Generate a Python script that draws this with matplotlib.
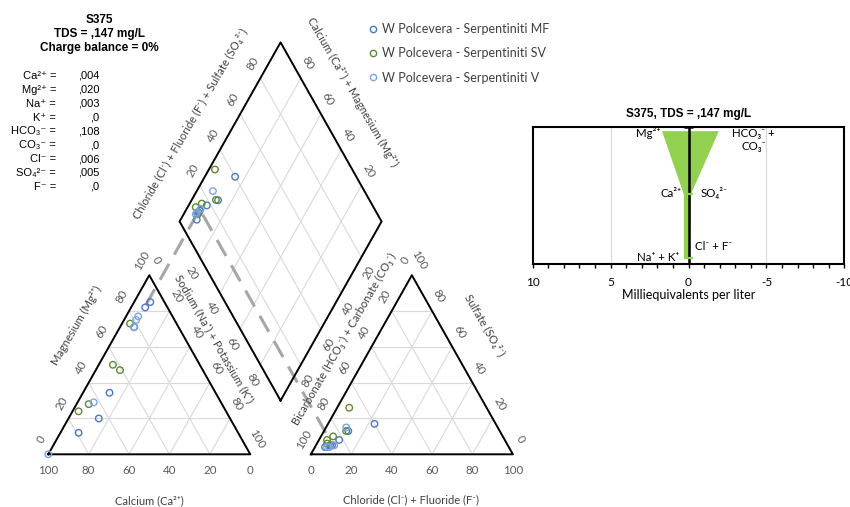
import numpy as np
import matplotlib
matplotlib.use('Agg')
import matplotlib.pyplot as plt
from matplotlib.lines import Line2D

plt.rcParams['font.family'] = ['Lato', 'DejaVu Sans']
ARIAL = ['Liberation Sans', 'DejaVu Sans']

# sample summary (as listed in the sheet)
sample_name = 'S375'
tds_text = ',147'
ion_names = ['Ca²⁺ =', 'Mg²⁺ =', 'Na⁺ =', 'K⁺ =', 'HCO₃⁻ =', 'CO₃⁻ =',
             'Cl⁻ =', 'SO₄²⁻ =', 'F⁻ =']
ion_values = [',004', ',020', ',003', ',0', ',108', ',0', ',006', ',005', ',0']
ion_mgl = [4, 20, 3, 0, 108, 0, 6, 5, 0]
ion_eqw = [20.04, 12.15, 22.99, 39.10, 61.02, 30.0, 35.45, 48.03, 19.0]

# percent meq - cations: Ca, Mg, Na+K / anions: HCO3+CO3, Cl+F, SO4
mf_ca = [7, 11, 22, 52, 65, 79]
mf_mg = [85, 82, 71, 34, 20, 12]
mf_na = [8, 7, 7, 13, 15, 9]
mf_hco3 = [91, 87, 88, 75, 60, 82]
mf_cl = [5, 8, 7, 12, 23, 10]
mf_so4 = [4, 5, 5, 13, 17, 8]

sv_ca = [23, 43, 41, 66, 73]
sv_mg = [73, 50, 47, 28, 24]
sv_na = [4, 7, 12, 6, 3]
sv_hco3 = [88, 89, 76, 84, 68]
sv_cl = [4, 5, 11, 6, 6]
sv_so4 = [8, 6, 13, 10, 26]

v_ca = [17, 19, 22, 63, 100]
v_mg = [77, 75, 71, 29, 0]
v_na = [6, 6, 7, 8, 0]
v_hco3 = [89, 90, 86, 75, np.nan]
v_cl = [7, 6, 9, 10, np.nan]
v_so4 = [4, 4, 5, 15, np.nan]

group_names = ['W Polcevera - Serpentiniti MF', 'W Polcevera - Serpentiniti SV',
               'W Polcevera - Serpentiniti V']
group_colors = ['#4a78c4', '#5d8a34', '#7ea3e2']

# stiff diagram, meq/L
stiff_cat_labels = ['Mg²⁺', 'Ca²⁺', 'Na⁺ + K⁺']
stiff_cat = [1.7, 0.3, 0.3]
stiff_an_labels = ['HCO₃⁻ +\nCO₃⁻', 'SO₄²⁻', 'Cl⁻ + F⁻']
stiff_an = [1.95, 0.15, 0.12]

H = np.sqrt(3) / 2
GAP = 0.3
AN_X0 = 1 + GAP
BOT = np.array([1 + GAP / 2, GAP / 2 * np.sqrt(3)])
LEFT = BOT + [-0.5, H]
RIGHT = BOT + [0.5, H]
TOP = BOT + [0, 2 * H]


def tri_xy(left, right, top, x0):
    tot = np.asarray(left, float) + np.asarray(right, float) + np.asarray(top, float)
    r = np.asarray(right, float) / tot
    t = np.asarray(top, float) / tot
    return x0 + r + t / 2, t * H


def diamond_xy(cat, an):
    ca, mg, na = [np.asarray(v, float) for v in cat]
    hc, cl, so = [np.asarray(v, float) for v in an]
    c = (ca + mg) / (ca + mg + na)
    a = (cl + so) / (hc + cl + so)
    p = BOT[:, None] + np.outer(LEFT - BOT, c) + np.outer(RIGHT - BOT, a)
    return p[0], p[1]


def dpt(c, a):
    return BOT + c * (LEFT - BOT) + a * (RIGHT - BOT)


fig = plt.figure(figsize=(8.5, 5.07), dpi=100)
ax = fig.add_axes([0, 0, 1, 1])
ax.set_xlim(-0.239, 3.969)
ax.set_ylim(-0.2548, 2.1968)
ax.axis('off')

grid_kw = dict(color='#d9d9d9', lw=0.8, zorder=1)
frame_kw = dict(color='black', lw=1.4, zorder=3)
steps = [0.2, 0.4, 0.6, 0.8]

# triangles
for x0 in (0, AN_X0):
    for f in steps:
        ax.plot([x0 + f / 2, x0 + 1 - f / 2], [f * H, f * H], **grid_kw)
        ax.plot([x0 + f, x0 + f + (1 - f) / 2], [0, (1 - f) * H], **grid_kw)
        ax.plot([x0 + 1 - f, x0 + (1 - f) / 2], [0, (1 - f) * H], **grid_kw)
    ax.plot([x0, x0 + 1, x0 + 0.5, x0], [0, 0, H, 0], **frame_kw)

# diamond
for f in steps:
    p0, p1 = dpt(f, 0), dpt(f, 1)
    ax.plot([p0[0], p1[0]], [p0[1], p1[1]], **grid_kw)
    p0, p1 = dpt(0, f), dpt(1, f)
    ax.plot([p0[0], p1[0]], [p0[1], p1[1]], **grid_kw)
dia = np.array([BOT, LEFT, TOP, RIGHT, BOT])
ax.plot(dia[:, 0], dia[:, 1], **frame_kw)

# tick labels
tk = dict(fontsize=8.3, color='#595959', ha='center', va='center', rotation_mode='anchor')
off_l = np.array([-0.035, 0.072])
off_r = np.array([0.035, 0.072])
off_b = np.array([0, -0.078])
off_dl = np.array([-0.038, -0.074])
off_dr = np.array([0.037, -0.074])
for i in range(6):
    f = i / 5
    v = int(round(f * 100))
    # cation triangle
    p = np.array([f / 2, f * H]) + off_l
    ax.text(p[0], p[1], str(v), rotation=60, **tk)
    p = np.array([0.5 + f / 2, (1 - f) * H]) + off_r
    ax.text(p[0], p[1], str(v), rotation=-60, **tk)
    p = np.array([f, 0]) + off_b
    ax.text(p[0], p[1], str(100 - v), **tk)
    # anion triangle
    p = np.array([AN_X0 + 0.5 - f / 2, (1 - f) * H]) + off_l
    ax.text(p[0], p[1], str(v), rotation=60, **tk)
    p = np.array([AN_X0 + 1 - f / 2, f * H]) + off_r
    ax.text(p[0], p[1], str(v), rotation=-60, **tk)
    p = np.array([AN_X0 + f, 0]) + off_b
    ax.text(p[0], p[1], str(v), **tk)
for f in steps:
    v = str(int(round(f * 100)))
    p = LEFT + f * (TOP - LEFT) + off_l
    ax.text(p[0], p[1], v, rotation=60, **tk)
    p = TOP + f * (RIGHT - TOP) + off_r
    ax.text(p[0], p[1], str(100 - int(v)), rotation=-60, **tk)
    p = LEFT + f * (BOT - LEFT) + off_dl
    ax.text(p[0], p[1], v, rotation=-60, **tk)
    p = RIGHT + f * (BOT - RIGHT) + off_dr
    ax.text(p[0], p[1], v, rotation=60, **tk)

# axis titles
tt = dict(fontsize=8, color='#404040', ha='center', va='center', rotation_mode='anchor')
ax.text(0.141, 0.622, 'Magnesium (Mg²⁺)', rotation=60, **tt)
ax.text(0.820, 0.558, 'Sodium (Na⁺) + Potassium (K⁺)', rotation=-60, **tt)
ax.text(0.4985, -0.224, 'Calcium (Ca²⁺)', **tt)
ax.text(1.7955, -0.221, 'Chloride (Cl⁻) + Fluoride (F⁻)', **tt)
ax.text(1.464, 0.558, 'Bicarbonate (HCO₃⁻) + Carbonate (CO₃⁻)', rotation=60, **tt)
ax.text(2.157, 0.622, 'Sulfate (SO₄²⁻)', rotation=-60, **tt)
ax.text(0.705, 1.597, 'Chloride (Cl⁻) + Fluoride (F⁻) + Sulfate (SO₄²⁻)', rotation=60, **tt)
ax.text(1.505, 1.750, 'Calcium (Ca²⁺) + Magnesium (Mg²⁺)', rotation=-60, **tt)

# projection of the selected sample
meq = np.array(ion_mgl) / np.array(ion_eqw)
s_cat = [meq[0], meq[1], meq[2] + meq[3]]
s_an = [meq[4] + meq[5], meq[6] + meq[8], meq[7]]
cx, cy = tri_xy(s_cat[0], s_cat[2], s_cat[1], 0)
axx, ayy = tri_xy(s_an[0], s_an[1], s_an[2], AN_X0)
dx, dy = diamond_xy([[s_cat[0]], [s_cat[1]], [s_cat[2]]], [[s_an[0]], [s_an[1]], [s_an[2]]])
ax.plot([cx, dx[0], axx], [cy, dy[0], ayy], color='#a6a6a6', lw=2.2,
        dashes=(6, 3.5), zorder=2)

# samples
groups = [
    (mf_ca, mf_mg, mf_na, mf_hco3, mf_cl, mf_so4),
    (sv_ca, sv_mg, sv_na, sv_hco3, sv_cl, sv_so4),
    (v_ca, v_mg, v_na, v_hco3, v_cl, v_so4),
]
handles = []
for (ca, mg, na, hc, cl, so), name, col in zip(groups, group_names, group_colors):
    mk = dict(s=22, facecolors='none', edgecolors=col, linewidths=1.0, zorder=4, clip_on=False)
    x, y = tri_xy(ca, na, mg, 0)
    ax.scatter(x, y, **mk)
    x, y = tri_xy(hc, cl, so, AN_X0)
    ax.scatter(x, y, **mk)
    x, y = diamond_xy([ca, mg, na], [hc, cl, so])
    ax.scatter(x, y, **mk)
    handles.append(Line2D([], [], ls='none', marker='o', ms=4.5, mfc='none',
                          mec=col, mew=1.0, label=name))

fig.legend(handles=handles, loc='upper left', bbox_to_anchor=(369 / 850, 1 - 23 / 507),
           frameon=False, fontsize=9, handlelength=0.7, handletextpad=0.3,
           labelspacing=0.98, borderpad=0, borderaxespad=0, labelcolor='#404040')

# sample header and ion list
def fx(px):
    return px / 850


def fy(py):
    return 1 - py / 507


hdr = dict(ha='center', va='center', fontsize=8.5, weight='bold', family=ARIAL)
fig.text(fx(99.5), fy(20), sample_name, **hdr)
fig.text(fx(99.5), fy(34), f'TDS = {tds_text} mg/L', **hdr)
fig.text(fx(99.5), fy(48), 'Charge balance = 0%', **hdr)
for i, (nm, val) in enumerate(zip(ion_names, ion_values)):
    y = fy(76 + 13.85 * i)
    fig.text(fx(56), y, nm, ha='right', va='center', fontsize=8, family=ARIAL)
    fig.text(fx(99.5), y, val, ha='right', va='center', fontsize=8, family=ARIAL)

# stiff diagram
sx = fig.add_axes([532.7 / 850, 1 - 264 / 507, (844.3 - 532.7) / 850, (264 - 126.7) / 507])
rows = np.arange(len(stiff_cat), 0, -1)
poly_x = list(stiff_cat) + [-v for v in stiff_an[::-1]]
poly_y = list(rows) + list(rows[::-1])
sx.fill(poly_x, poly_y, color='#92d050', lw=0, zorder=2)
sx.axvline(0, color='black', lw=1.8, zorder=3)
sx.hlines(rows[1:], -0.3, 0.3, color='#92d050', lw=1.5, zorder=3)
sx.set_xlim(10, -10)
sx.set_ylim(0.9, 3.07)
sx.hlines(3.07, -0.3, 0.3, color='black', lw=1.8, zorder=4, clip_on=False)
sx.set_xticks([10, 5, 0, -5, -10])
sx.set_xticklabels(['10', '5', '0', '-5', '-10'])
sx.set_xticks(np.arange(-10, 11, 1), minor=True)
sx.tick_params(axis='x', which='both', direction='out', length=3, width=1,
               labelsize=8.5, pad=6)
sx.set_yticks([])
for v in (5, -5):
    sx.axvline(v, color='#d9d9d9', lw=0.8, zorder=1)
for sp in sx.spines.values():
    sp.set_linewidth(1.5)
sx.set_xlabel('Milliequivalents per liter', fontsize=9, labelpad=1)
sx.set_title(f'{sample_name}, TDS = {tds_text} mg/L', fontsize=8.5, weight='bold',
             family=ARIAL, pad=7)

sl = dict(fontsize=8.3, textcoords='offset points', zorder=5)
sx.annotate(stiff_cat_labels[0], (stiff_cat[0], rows[0]), xytext=(-1, -1.5), ha='right', va='center', **sl)
sx.annotate(stiff_an_labels[0], (-stiff_an[0], rows[0]), xytext=(25, 2), ha='center', va='top', **sl)
sx.annotate(stiff_cat_labels[1], (stiff_cat[1], rows[1]), xytext=(-2, 1), ha='right', va='center', **sl)
sx.annotate(stiff_an_labels[1], (-stiff_an[1], rows[1]), xytext=(7, 1), ha='left', va='center', **sl)
sx.annotate(stiff_cat_labels[2], (stiff_cat[2], rows[2]), xytext=(-3, 0), ha='right', va='center', **sl)
sx.annotate(stiff_an_labels[2], (-stiff_an[2], rows[2]), xytext=(3, 8), ha='left', va='center', **sl)

fig.savefig('out.png', dpi=100)
